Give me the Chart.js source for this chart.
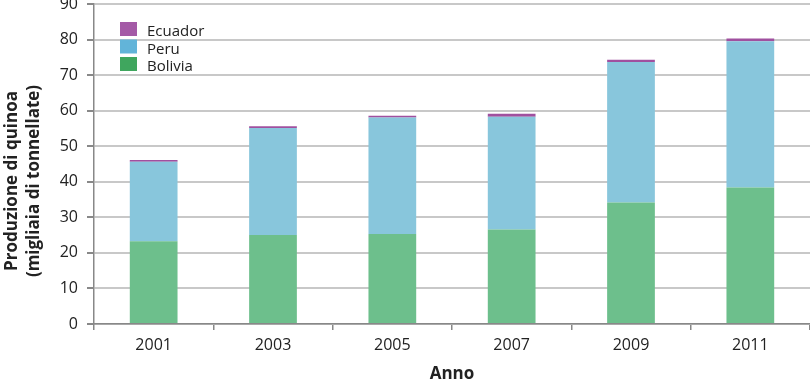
<!DOCTYPE html>
<html><head><meta charset="utf-8">
<script src="https://cdn.jsdelivr.net/npm/chart.js@4/dist/chart.umd.min.js"></script>
<style>html,body{margin:0;padding:0;background:#fff}#wrap{width:810px;height:384px}</style>
</head><body><div id="wrap"><canvas id="c" width="810" height="384"></canvas></div>
<script>
const years = ["2001","2003","2005","2007","2009","2011"];
const bolivia = [23.3, 25.0, 25.3, 26.6, 34.2, 38.4];
const peru = [22.3, 30.1, 32.8, 31.7, 39.5, 41.1];
const ecuador = [0.5, 0.5, 0.5, 0.8, 0.6, 0.8];
const yTicks = [0,10,20,30,40,50,60,70,80,90];
const yTitle = ["Produzione di quinoa","(migliaia di tonnellate)"];

const legendItems = [
  {label:"Ecuador", color:"#a45aa6"},
  {label:"Peru", color:"#62b4d9"},
  {label:"Bolivia", color:"#3fa65e"}
];
const legendPlugin = {
  id:"inlegend",
  afterDraw(chart){
    const ctx = chart.ctx;
    ctx.save();
    ctx.font = "15px 'Open Sans'";
    ctx.textBaseline = "middle";
    ctx.textAlign = "left";
    legendItems.forEach((it,i)=>{
      const y = 30 + i*17.5;
      ctx.fillStyle = it.color;
      ctx.fillRect(120, y-8, 17, 14);
      ctx.fillStyle = "#222";
      ctx.fillText(it.label, 147, y+2);
    });
    // y axis title
    ctx.font = "bold 17px 'Open Sans'";
    ctx.textAlign = "center";
    ctx.textBaseline = "middle";
    ctx.fillStyle = "#222";
    const cy = 181;
    [12, 34].forEach((x,i)=>{
      ctx.save();
      ctx.translate(x, cy);
      ctx.rotate(-Math.PI/2);
      ctx.fillText(yTitle[i], 0, 0);
      ctx.restore();
    });
    ctx.restore();
  }
};

new Chart(document.getElementById("c"), {
  type:"bar",
  data:{
    labels: years,
    datasets:[
      {label:"Bolivia", data:bolivia, backgroundColor:"#6dbf8c", barPercentage:0.4, categoryPercentage:1},
      {label:"Peru", data:peru, backgroundColor:"#88c6dc", barPercentage:0.4, categoryPercentage:1},
      {label:"Ecuador", data:ecuador, backgroundColor:"#a0509f", barPercentage:0.4, categoryPercentage:1}
    ]
  },
  options:{
    responsive:false,
    animation:false,
    layout:{padding:{top:4,right:0,left:0,bottom:0}},
    plugins:{legend:{display:false}, tooltip:{enabled:false}},
    scales:{
      x:{
        stacked:true,
        afterFit(axis){ axis.height = 60; axis.paddingLeft = 0; axis.paddingRight = 0; },
        grid:{display:true, drawOnChartArea:false, offset:true, tickLength:6, color:"#888", lineWidth:1.5},
        border:{display:true, color:"#888", width:1.5},
        ticks:{color:"#222", font:{family:"'Open Sans'", size:16}, padding:6},
        title:{display:true, text:"Anno", color:"#222", font:{family:"'Open Sans'", size:17, weight:"bold"}, padding:{top:7,bottom:0}}
      },
      y:{
        stacked:true, min:0, max:90,
        afterFit(axis){ axis.width = 94; axis.paddingTop = 0; axis.paddingBottom = 0; },
        afterBuildTicks(axis){ axis.ticks = yTicks.map(v=>({value:v})); },
        grid:{color:"#c8c8c8", lineWidth:2, tickLength:7, tickColor:"#888"},
        border:{display:true, color:"#888", width:1.5},
        ticks:{color:"#222", font:{family:"'Open Sans'", size:16}, padding:9},
        title:{display:false}
      }
    }
  },
  plugins:[legendPlugin]
});
</script></body></html>
